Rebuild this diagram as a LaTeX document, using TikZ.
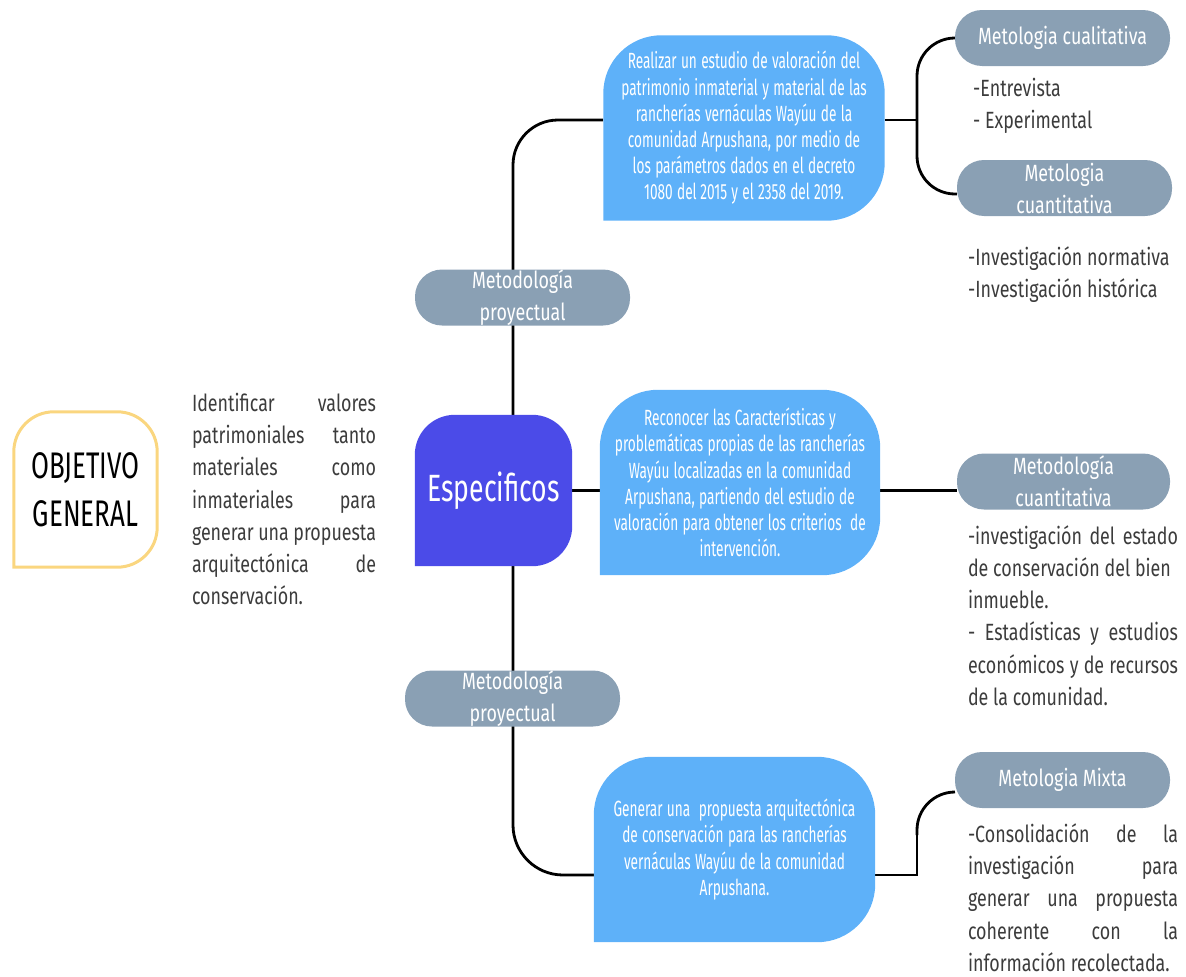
\documentclass[tikz,border=0pt]{standalone}
\usepackage{fontspec}
\setmainfont{Fira Sans}[FakeStretch=0.76]
\newfontfamily\condfont{Fira Sans}[FakeStretch=0.62]
\newfontfamily\titlefont{Fira Sans}[FakeStretch=0.7]
\usetikzlibrary{backgrounds,calc}
\definecolor{pillc}{HTML}{8AA0B4}
\definecolor{skyc}{HTML}{5EB1F9}
\definecolor{violetc}{HTML}{4B4BE8}
\definecolor{goldc}{HTML}{FAD67F}
\definecolor{inkc}{HTML}{3C3C3C}
\newcommand\tightsp{\spaceskip=4.3pt\relax}
\tikzset{
  conn/.style={draw=black, line width=2.8pt},
  pillbox/.style={fill=pillc, text=white, rounded corners=27pt, minimum width=215pt, minimum height=56pt, align=center, inner sep=0pt, font=\fontsize{23.5}{32}\selectfont},
  skybox/.style={text=white, align=center, inner sep=0pt, minimum width=281pt, minimum height=185pt, text width=272pt, font=\condfont\fontsize{22}{26.2}\selectfont},
  bodytext/.style={text=inkc, inner sep=0pt, font=\fontsize{23.5}{32.3}\selectfont},
}
\newcommand\threeround[3]{\fill[#2, rounded corners=#3] (#1.south west) -- (#1.north west) -- (#1.north east) -- (#1.south east) -- (#1.south west);}
\begin{document}
\begin{tikzpicture}[x=1pt,y=-1pt]
\useasboundingbox (0,0) rectangle (1186,977);

% nodes
\node[inner sep=0pt, minimum width=143pt, minimum height=155pt, align=center, font=\titlefont\fontsize{37}{48}\selectfont] (obj) at (85.5,489.5) {OBJETIVO\\GENERAL};
\node[bodytext, text width=184pt, align=justify] (para1) at (284,499) {Identificar valores\linebreak patrimoniales tanto\linebreak materiales como\linebreak inmateriales para\linebreak generar una propuesta\linebreak arquitectónica de\linebreak conservación.};
\node[inner sep=0pt, minimum width=157pt, minimum height=151pt, text=white, font=\titlefont\fontsize{38}{40}\selectfont] (esp) at (493.5,490.5) {Especificos};

\node[skybox] (b1) at (744,128) {\tightsp Realizar un estudio de valoración del\\patrimonio inmaterial y material de las\\rancherías vernáculas Wayúu de la\\comunidad Arpushana, por medio de\\los parámetros dados en el decreto\\1080 del\,2015 y el 2358 del 2019.};
\node[skybox, minimum width=280pt] (b2) at (740,482.5) {\tightsp Reconocer las Características y\\problemáticas propias de las rancherías\\Wayúu localizadas en la comunidad\\Arpushana, partiendo del estudio de\\valoración para obtener los criterios \ de\\intervención.};
\node[skybox] (b3) at (734.5,849.5) {\tightsp Generar una \ propuesta arquitectónica\\de conservación para las rancherías\\vernáculas Wayúu de la comunidad\\Arpushana.};

\node[pillbox] (p1) at (522.5,297.5) {Metodología\\proyectual};
\node[pillbox] (p2) at (512.5,698.5) {Metodología\\proyectual};
\node[pillbox] (c1) at (1062.5,38) {Metologia cualitativa};
\node[pillbox] (c2) at (1064.5,188) {Metologia\\cuantitativa};
\node[pillbox, minimum width=213pt] (m2) at (1063.5,481.5) {Metodología\\cuantitativa};
\node[pillbox] (mx) at (1062.5,780) {Metologia Mixta};

\node[bodytext, anchor=west, align=left] (l1) at (973,106) {-Entrevista\\- Experimental};
\node[bodytext, anchor=west, align=left] (l2) at (968,274.5) {-Investigación normativa\\-Investigación histórica};
\node[bodytext, text width=210pt, align=justify] (para2) at (1073,615.5) {-investigación del estado\linebreak de conservación del bien\\inmueble.\\- Estadísticas y estudios\linebreak económicos y de recursos\linebreak de la comunidad.};
\node[bodytext, text width=210pt, align=justify] (para3) at (1073,897.5) {-Consolidación de la\linebreak investigación para\linebreak generar una propuesta\linebreak coherente con la\linebreak información recolectada.};

\coordinate (trunk) at (513,491);
\coordinate (jt) at (603,120);
\coordinate (bx) at (917,120);
\coordinate (jb) at (594,875);
\coordinate (jm) at (917,835);
\coordinate (jmx) at (955,792);

\begin{scope}[on background layer]
  \draw[conn, rounded corners=45pt] (esp.north -| trunk) |- (jt);
  \draw[conn] (b1.east |- jt) -- (bx);
  \draw[conn, rounded corners=38pt] (c1.west) -| (bx) |- ($(c2.west)+(0,6)$);
  \draw[conn] (esp.east) -- (esp.east -| b2.west);
  \draw[conn] (b2.east |- esp.east) -- (m2.west |- esp.east);
  \draw[conn, rounded corners=50pt] (esp.south -| trunk) |- (jb);
  \draw[conn] (b3.east |- jb) -| (jm);
  \draw[conn, rounded corners=38pt] (jm) |- (jmx);
  \threeround{b1}{skyc}{58pt}
  \threeround{b2}{skyc}{58pt}
  \threeround{b3}{skyc}{58pt}
  \threeround{esp}{violetc}{40pt}
  \fill[white, rounded corners=40pt] (obj.south west) -- (obj.north west) -- (obj.north east) -- (obj.south east) -- (obj.south west);
  \draw[goldc, line width=3pt, line cap=rect, rounded corners=40pt] (obj.south west) -- (obj.north west) -- (obj.north east) -- (obj.south east) -- (obj.south west);
\end{scope}
\end{tikzpicture}
\end{document}
